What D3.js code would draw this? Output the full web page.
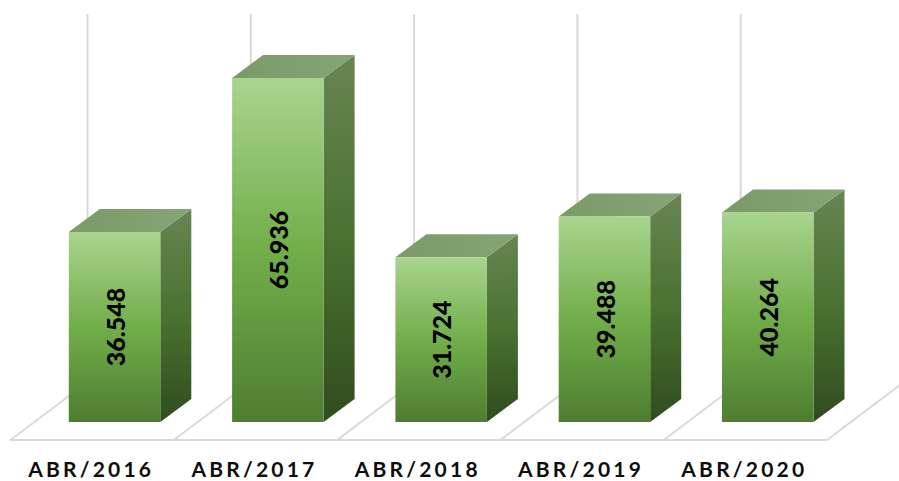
<!DOCTYPE html>
<html><head><meta charset="utf-8">
<script src="https://cdn.jsdelivr.net/npm/d3@7"></script>
<style>html,body{margin:0;padding:0;background:#fff}svg{display:block}</style>
</head><body><svg id="c" width="899" height="481"></svg>
<script>
const categories = ["ABR/2016","ABR/2017","ABR/2018","ABR/2019","ABR/2020"];
const values = [36548,65936,31724,39488,40264];
const valueLabels = ["36.548","65.936","31.724","39.488","40.264"];

const svg = d3.select("#c");
const baseY = 422, depthX = 31, depthY = 23;
const x = d3.scaleBand().domain(categories).range([10.5,827]).paddingInner(0).paddingOuter(0);
const y = d3.scaleLinear().domain([0,65936]).range([423.5,78]);
const barW = 91.5;
const barX = c => x(c) + 58.3;

const defs = svg.append("defs");
const grad = (id,x2,y2,stops)=>{
  const g = defs.append("linearGradient").attr("id",id).attr("x1",0).attr("y1",0).attr("x2",x2).attr("y2",y2);
  stops.forEach(s=>g.append("stop").attr("offset",s[0]).attr("stop-color",s[1]));
};
grad("front",0,1,[[0,"#a9d48f"],[0.5,"#72ae4a"],[1,"#4e7d31"]]);
grad("side",0,1,[[0,"#688553"],[0.5,"#4a7230"],[1,"#304c1f"]]);
grad("top",1,0,[[0,"#7a9a66"],[1,"#86a575"]]);

const floorBackY = 382, floorFrontY = 440, slant = 77;
const grid = svg.append("g").attr("stroke","#d9d9d9").attr("stroke-width",2).attr("fill","none");
const lineXs = categories.map(c=>x(c)).concat([x.range()[1]]);
grid.selectAll("line.v").data(lineXs).join("line").attr("class","v")
  .attr("x1",d=>d+slant).attr("x2",d=>d+slant).attr("y1",14).attr("y2",floorBackY);
grid.selectAll("line.s").data(lineXs).join("line").attr("class","s")
  .attr("x1",d=>d).attr("x2",d=>d+slant).attr("y1",floorFrontY).attr("y2",floorBackY);
grid.append("line").attr("x1",x.range()[0]-1).attr("x2",x.range()[1]).attr("y1",floorFrontY).attr("y2",floorFrontY);

const bars = svg.append("g").selectAll("g").data(categories).join("g");
const val = i => values[i];
bars.append("path").attr("fill","url(#side)").attr("d",(c,i)=>{
  const r = barX(c)+barW, t = y(val(i));
  return `M${r},${t}L${r+depthX},${t-depthY}L${r+depthX},${baseY-depthY}L${r},${baseY}Z`;
});
bars.append("path").attr("fill","url(#top)").attr("d",(c,i)=>{
  const l = barX(c), t = y(val(i));
  return `M${l},${t}L${l+depthX},${t-depthY}L${l+barW+depthX},${t-depthY}L${l+barW},${t}Z`;
});
bars.append("rect").attr("fill","url(#front)")
  .attr("x",c=>barX(c)).attr("width",barW)
  .attr("y",(c,i)=>y(val(i))).attr("height",(c,i)=>baseY-y(val(i)));
bars.append("text")
  .attr("transform",(c,i)=>`translate(${barX(c)+barW/2+1.5},${(y(val(i))+baseY)/2}) rotate(-90)`)
  .attr("text-anchor","middle").attr("dy","0.35em")
  .attr("font-family","Lato,sans-serif").attr("font-weight",900)
  .attr("font-size",25).attr("fill","#000")
  .text((c,i)=>valueLabels[i]);

const axis = d3.axisBottom(x).tickSize(0).tickPadding(0);
const ax = svg.append("g").attr("transform","translate(-1,464)").call(axis);
ax.select(".domain").remove();
ax.selectAll("text").attr("dy",0).attr("y",12.5).attr("dominant-baseline","auto")
  .attr("font-family","Lato,sans-serif").attr("font-weight",700)
  .attr("font-size",21).attr("letter-spacing",3.2).attr("fill","#0d0d0d");
</script></body></html>
